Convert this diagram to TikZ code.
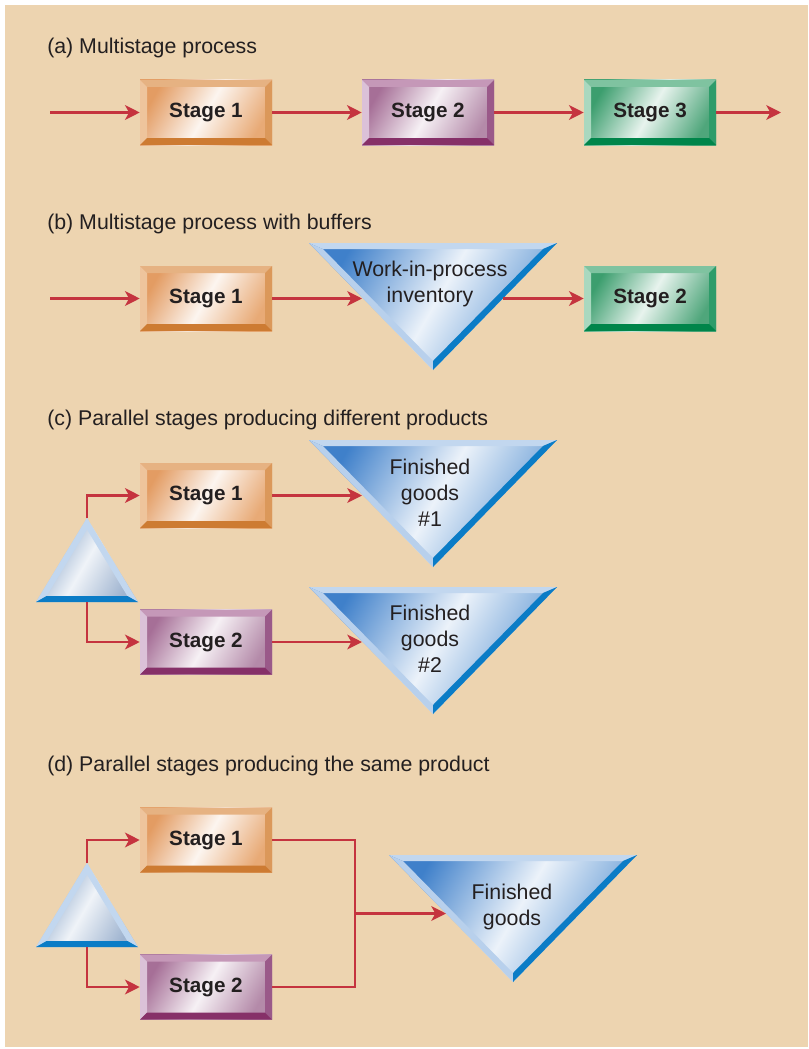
\documentclass[tikz,border=0pt]{standalone}
\usepackage{fontspec}
\setmainfont{Liberation Sans}
\usetikzlibrary{arrows.meta}

\definecolor{bgtan}{HTML}{EDD4B0}
\definecolor{arrowred}{HTML}{C5343F}
\definecolor{inkblack}{HTML}{231F20}
% stage colours: face, top, left, right, bottom
\definecolor{orfaceA}{HTML}{E39C63}
\definecolor{orfaceB}{HTML}{E8AA76}
\definecolor{ortop}{HTML}{E6B282}
\definecolor{orleft}{HTML}{EEC49C}
\definecolor{orright}{HTML}{DB985A}
\definecolor{orbottom}{HTML}{CD7B32}
\definecolor{pufaceA}{HTML}{A66F97}
\definecolor{pufaceB}{HTML}{B48AA9}
\definecolor{putop}{HTML}{C598B8}
\definecolor{puleft}{HTML}{DBC1D8}
\definecolor{puright}{HTML}{9A5989}
\definecolor{pubottom}{HTML}{863068}
\definecolor{grfaceA}{HTML}{3C9E6E}
\definecolor{grfaceB}{HTML}{4FA67B}
\definecolor{grtop}{HTML}{7FC3A0}
\definecolor{grleft}{HTML}{A9D8BF}
\definecolor{grright}{HTML}{2E9C6A}
\definecolor{grbottom}{HTML}{00854A}
% triangles
\definecolor{blfaceA}{HTML}{3F80CA}
\definecolor{blfaceB}{HTML}{5D96D3}
\definecolor{bllight}{HTML}{C2D7EF}
\definecolor{bldark}{HTML}{0B7CC6}
\definecolor{smfaceA}{HTML}{7E9DC4}
\definecolor{smfaceB}{HTML}{9FB4D0}

% bevel edges of a stage box: top, left, right, bottom
\newcommand{\bevels}[4]{%
  \coordinate (bvnw) at (path picture bounding box.north west);
  \coordinate (bvne) at (path picture bounding box.north east);
  \coordinate (bvsw) at (path picture bounding box.south west);
  \coordinate (bvse) at (path picture bounding box.south east);
  \fill[#1] (bvnw) -- (bvne) -- ([shift={(-5.25pt,-5.25pt)}]bvne) -- ([shift={(5.25pt,-5.25pt)}]bvnw) -- cycle;
  \fill[#2] (bvnw) -- (bvsw) -- ([shift={(5.25pt,5.25pt)}]bvsw) -- ([shift={(5.25pt,-5.25pt)}]bvnw) -- cycle;
  \fill[#3] (bvne) -- (bvse) -- ([shift={(-5.25pt,5.25pt)}]bvse) -- ([shift={(-5.25pt,-5.25pt)}]bvne) -- cycle;
  \fill[#4] (bvsw) -- (bvse) -- ([shift={(-5.25pt,5.25pt)}]bvse) -- ([shift={(5.25pt,5.25pt)}]bvsw) -- cycle;
}

\tikzset{
  flow/.style={draw=arrowred, line width=2pt, -{Stealth[length=11pt,width=11pt,inset=3pt]}},
  joinline/.style={draw=arrowred, line width=2pt},
  partlabel/.style={anchor=west, inner sep=0pt, text=inkblack, font=\fontsize{16}{19}\selectfont},
  tritext/.style={align=center, inner sep=0pt, text=inkblack, font=\fontsize{16}{19.5}\selectfont},
  stagebox/.style={rectangle, inner sep=0pt, minimum width=99pt, minimum height=48.75pt,
    text=inkblack, font=\fontsize{15.5}{18}\selectfont\bfseries},
  stageone/.style={stagebox, left color=orfaceA, right color=orfaceB, middle color=white!90!orfaceA,
    shading angle=60, path picture={\bevels{ortop}{orleft}{orright}{orbottom}}},
  stagetwo/.style={stagebox, left color=pufaceA, right color=pufaceB, middle color=white!90!pufaceA,
    shading angle=60, path picture={\bevels{putop}{puleft}{puright}{pubottom}}},
  stagethree/.style={stagebox, left color=grfaceA, right color=grfaceB, middle color=white!88!grfaceA,
    shading angle=60, path picture={\bevels{grtop}{grleft}{grright}{grbottom}}},
  % inventory triangle, origin at the middle of its top edge
  invtri/.pic={
    \shade[left color=blfaceA, right color=blfaceB, middle color=white!90!blfaceA, shading angle=60]
      (-124,0) -- (124,0) -- (0,127) -- cycle;
    \fill[bllight] (-124,0) -- (124,0) -- (110,6) -- (-110,6) -- cycle;
    \fill[bllight!92!blfaceA] (-124,0) -- (-110,6) -- (0,118) -- (0,127) -- cycle;
    \fill[bldark] (124,0) -- (0,127) -- (0,118) -- (110,6) -- cycle;
  },
  % splitting triangle, origin at its apex
  splittri/.pic={
    \shade[left color=smfaceA, right color=smfaceB, middle color=white!88!smfaceA, shading angle=60]
      (0,0) -- (51,84) -- (-51,84) -- cycle;
    \fill[bllight] (0,0) -- (-51,84) -- (-40.4,78) -- (0,11.5) -- cycle;
    \fill[bllight] (0,0) -- (51,84) -- (40.4,78) -- (0,11.5) -- cycle;
    \fill[bldark] (-51,84) -- (51,84) -- (40.4,78) -- (-40.4,78) -- cycle;
  }
}

\begin{document}
\begin{tikzpicture}[x=0.75pt, y=-0.75pt]
  \useasboundingbox (0,0) rectangle (808,1049);
  \fill[bgtan] (5,5) rectangle (808,1047);

  % (a) stages in a row
  \node[partlabel] (labela) at (47,47.5) {(a) Multistage process};
  \coordinate (ina) at (50,112.5);
  \coordinate (outa) at (781,112.5);
  \node[stageone] (a1) at (206,112.5) {Stage 1};
  \node[stagetwo] (a2) at (428,112.5) {Stage 2};
  \node[stagethree] (a3) at (650,112.5) {Stage 3};
  \draw[flow] (ina) -- (a1.west);
  \draw[flow] (a1.east) -- (a2.west);
  \draw[flow] (a2.east) -- (a3.west);
  \draw[flow] (a3.east) -- (outa);

  % (b) buffer between the stages
  \node[partlabel] (labelb) at (47,223.5) {(b) Multistage process with buffers};
  \coordinate (inb) at (50,298.5);
  \node[stageone] (b1) at (206,298.5) {Stage 1};
  \pic at (433,243) {invtri};
  \node[tritext] (wip) at (430,284) {Work-in-process\\inventory};
  \coordinate (wipin) at (362,298.5);
  \coordinate (wipout) at (503,298.5);
  \node[stagethree] (b2) at (650,298.5) {Stage 2};
  \draw[flow] (inb) -- (b1.west);
  \draw[flow] (b1.east) -- (wipin);
  \draw[flow] (wipout) -- (b2.west);

  % (c) two stages, two products
  \node[partlabel] (labelc) at (47,419.5) {(c) Parallel stages producing different products};
  \pic at (87,518) {splittri};
  \coordinate (splitctop) at (87,518);
  \coordinate (splitcbot) at (87,602);
  \node[stageone] (c1) at (206,495.5) {Stage 1};
  \node[stagetwo] (c2) at (206,642) {Stage 2};
  \pic at (433,440) {invtri};
  \node[tritext] (fg1) at (430,493) {Finished\\goods\\\#1};
  \coordinate (fg1in) at (362,495.5);
  \pic at (433,587) {invtri};
  \node[tritext] (fg2) at (430,639) {Finished\\goods\\\#2};
  \coordinate (fg2in) at (362,642);
  \draw[flow] (splitctop) |- (c1.west);
  \draw[flow] (splitcbot) |- (c2.west);
  \draw[flow] (c1.east) -- (fg1in);
  \draw[flow] (c2.east) -- (fg2in);

  % (d) two stages, one product
  \node[partlabel] (labeld) at (47,765.5) {(d) Parallel stages producing the same product};
  \pic at (87,863) {splittri};
  \coordinate (splitdtop) at (87,863);
  \coordinate (splitdbot) at (87,947);
  \node[stageone] (d1) at (206,840) {Stage 1};
  \node[stagetwo] (d2) at (206,987) {Stage 2};
  \pic at (513,855) {invtri};
  \node[tritext] (fgd) at (512,906.5) {Finished\\goods};
  \coordinate (joind) at (355,913.5);
  \coordinate (fgdin) at (446,913.5);
  \draw[flow] (splitdtop) |- (d1.west);
  \draw[flow] (splitdbot) |- (d2.west);
  \draw[joinline] (d1.east) -| (joind);
  \draw[joinline] (d2.east) -| (joind);
  \draw[flow] (joind) -- (fgdin);
\end{tikzpicture}
\end{document}
